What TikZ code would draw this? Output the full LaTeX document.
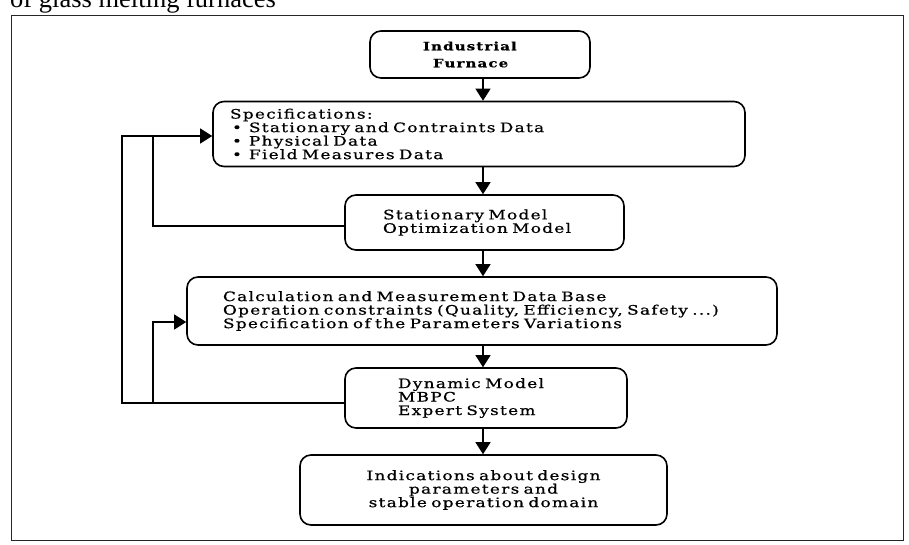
\documentclass[tikz,border=0pt]{standalone}
\usepackage{fontspec}
\setmainfont{DejaVu Serif}
\newfontfamily\boxfont[FakeStretch=1.3,LetterSpace=10,FakeBold=0.7]{DejaVu Serif}
\newfontfamily\titlefont{Liberation Serif}
\usetikzlibrary{arrows.meta}
\begin{document}
\begin{tikzpicture}[x=1pt,y=-1pt,
  box/.style={draw, line width=1.6pt, rounded corners=11pt, inner ysep=0pt,
    align=left, font=\boxfont\fontsize{13}{13.5}\selectfont},
  conn/.style={line width=1.1pt},
  arr/.style={conn, -{Triangle[width=15pt,length=12pt]}},
]
\useasboundingbox (0,0) rectangle (909,544);
\clip (0,0) rectangle (909,544);
\node[anchor=base west, inner sep=0pt, font=\titlefont\fontsize{26.5}{30}\selectfont] (title) at (10,7) {of glass melting furnaces};
\draw[line width=0.9pt, black!85] (11,15) rectangle (903,540);

\node[box, minimum width=220pt, minimum height=47pt, inner xsep=53pt, text width=114pt, font=\boxfont\bfseries\fontsize{11.5}{17}\selectfont] (b1) at (480,54.5)
  {Industrial\\\hspace*{10pt}Furnace};
\node[box, minimum width=532pt, minimum height=65pt, inner xsep=17pt, text width=498pt] (b2) at (479,134)
  {Specifications:\\
   \hspace*{2pt}\textbullet\hspace{7pt}Stationary and Contraints Data\\
   \hspace*{2pt}\textbullet\hspace{7pt}Physical Data\\
   \hspace*{2pt}\textbullet\hspace{7pt}Field Measures Data};
\node[box, minimum width=279pt, minimum height=55pt, inner xsep=38pt, text width=203pt] (b3) at (484.5,222.5)
  {Stationary Model\\Optimization Model};
\node[box, minimum width=590pt, minimum height=68pt, inner xsep=36pt, text width=518pt] (b4) at (482,311)
  {Calculation and Measurement Data Base\\
   Operation constraints (Quality, Efficiency, Safety ...)\\
   Specification of the Parameters Variations};
\node[box, minimum width=282pt, minimum height=60pt, inner xsep=53pt, text width=176pt] (b5) at (486,398)
  {Dynamic Model\\MBPC\\Expert System};
\node[box, minimum width=367pt, minimum height=70pt, inner xsep=20pt, text width=327pt, align=center] (b6) at (483.5,490)
  {Indications about design\\parameters and\\stable operation domain};

\coordinate (col) at (483,0);
\draw[arr] (b1.south -| col) -- (b2.north -| col);
\draw[arr] (b2.south -| col) -- (b3.north -| col);
\draw[arr] (b3.south -| col) -- (b4.north -| col);
\draw[arr] (b4.south -| col) -- (b5.north -| col);
\draw[arr] (b5.south -| col) -- (b6.north -| col);

\coordinate (o1) at (122,403);
\coordinate (o2) at (122,136);
\coordinate (i1) at (153,226);
\coordinate (i2) at (153,136);
\coordinate (i3) at (153,403);
\coordinate (i4) at (153,322);
\draw[arr] (b5.west |- o1) -- (o1) -- (o2) -- (b2.west |- o2);
\draw[conn] (b3.west |- i1) -- (i1) -- (i2);
\draw[arr] (i3) -- (i4) -- (b4.west |- i4);
\end{tikzpicture}
\end{document}
